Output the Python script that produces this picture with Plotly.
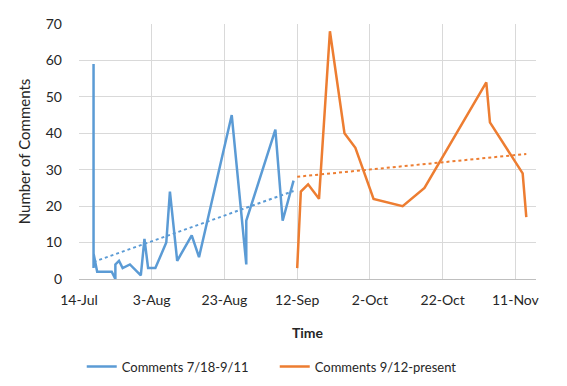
import numpy as np
import pandas as pd
import plotly.graph_objects as go

# ---- data ----
blue_name = "Comments 7/18-9/11"
blue_dates = ["2014-07-18", "2014-07-18", "2014-07-18", "2014-07-19", "2014-07-20", "2014-07-21",
              "2014-07-22", "2014-07-23", "2014-07-24", "2014-07-24", "2014-07-25", "2014-07-26",
              "2014-07-28", "2014-07-31", "2014-08-01", "2014-08-02", "2014-08-03", "2014-08-04",
              "2014-08-07", "2014-08-08", "2014-08-10", "2014-08-14", "2014-08-16", "2014-08-25",
              "2014-08-29", "2014-08-29", "2014-09-06", "2014-09-08", "2014-09-11"]
blue_values = [59, 3, 7, 2, 2, 2,
               2, 2, 0, 4, 5, 3,
               4, 1, 11, 3, 3, 3,
               10, 24, 5, 12, 6, 45,
               4, 16, 41, 16, 27]

orange_name = "Comments 9/12-present"
orange_dates = ["2014-09-12", "2014-09-13", "2014-09-15", "2014-09-18", "2014-09-21", "2014-09-25",
                "2014-09-28", "2014-10-03", "2014-10-11", "2014-10-17", "2014-11-03", "2014-11-04",
                "2014-11-13", "2014-11-14"]
orange_values = [3, 24, 26, 22, 68, 40,
                 36, 22, 20, 25, 54, 43,
                 29, 17]

x_start = "2014-07-14"
x_end = "2014-11-16 16:00"
y_ticks = [0, 10, 20, 30, 40, 50, 60, 70]

BLUE = "#5B9BD5"
ORANGE = "#ED7D31"
FONT = "Lato"
TXT = "#262626"


def trend(dates, values):
    d = pd.to_datetime(pd.Series(dates))
    x = (d - d.iloc[0]).dt.total_seconds().values / 86400.0
    k, b = np.polyfit(x, np.array(values, dtype=float), 1)
    ends = [d.iloc[0], d.iloc[-1]]
    return ends, [b + k * x[0], b + k * x[-1]]


fig = go.Figure()
fig.add_trace(go.Scatter(x=blue_dates, y=blue_values, mode="lines", name=blue_name,
                         line=dict(color=BLUE, width=2.5)))
fig.add_trace(go.Scatter(x=orange_dates, y=orange_values, mode="lines", name=orange_name,
                         line=dict(color=ORANGE, width=2.5)))
for dts, vals, col in [(blue_dates, blue_values, BLUE), (orange_dates, orange_values, ORANGE)]:
    tx, ty = trend(dts, vals)
    fig.add_trace(go.Scatter(x=tx, y=ty, mode="lines", showlegend=False, hoverinfo="skip",
                             line=dict(color=col, width=2, dash="dot")))

fig.update_layout(
    width=567, height=386,
    margin=dict(l=71, r=39, t=16, b=103),
    paper_bgcolor="white", plot_bgcolor="white",
    font=dict(family=FONT, size=14, color=TXT),
    showlegend=True,
    legend=dict(orientation="h", x=0.006, xanchor="left", y=-0.285, yanchor="top",
                font=dict(size=13, color=TXT), itemwidth=30, tracegroupgap=0,
                entrywidth=148, entrywidthmode="pixels"),
)
fig.update_xaxes(
    type="date", range=[x_start, x_end], automargin=False,
    tick0=x_start, dtick=20 * 86400000, tickformat="%-d-%b",
    showgrid=True, gridcolor="#D9D9D9", gridwidth=1,
    showline=True, linecolor="#BFBFBF", linewidth=1,
    ticks="", ticklabelstandoff=8,
    tickfont=dict(size=14, color=TXT),
    title=dict(text="<b>Time</b>", font=dict(size=14, color=TXT), standoff=21),
    zeroline=False,
)
fig.update_yaxes(
    range=[0, 70], tickvals=y_ticks, automargin=False,
    showgrid=True, gridcolor="#D9D9D9", gridwidth=1,
    showline=False, ticks="", ticklabelstandoff=16,
    tickfont=dict(size=14, color=TXT),
    title=dict(text="Number of Comments", font=dict(size=15, color=TXT), standoff=11),
    zeroline=False,
)

fig.write_html("out.html")
